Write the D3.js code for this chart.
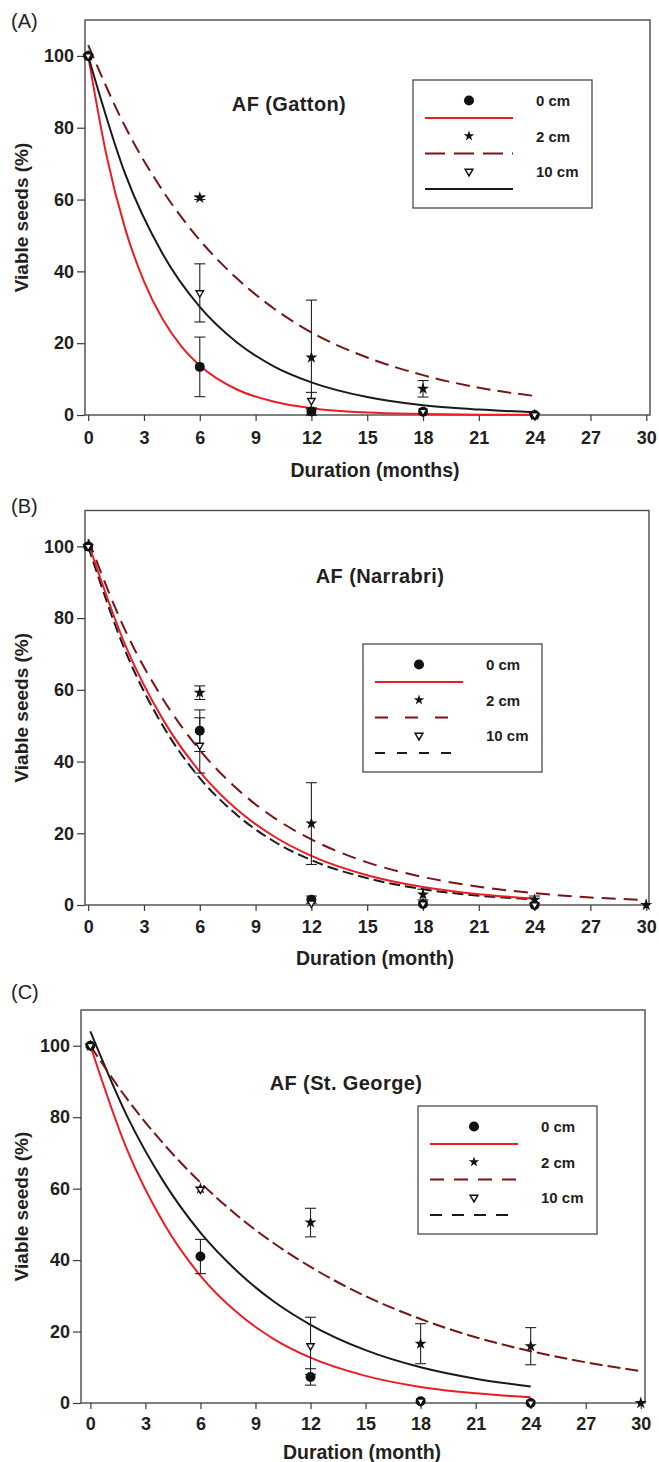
<!DOCTYPE html>
<html>
<head>
<meta charset="utf-8">
<script src="https://cdn.jsdelivr.net/npm/d3@7"></script>
<style>
  body { margin: 0; background: #fff; }
  svg { display: block; }
  text { font-family: "Liberation Sans", Arial, sans-serif; fill: #231f20; }
</style>
</head>
<body>
<svg id="chart" width="659" height="1462"></svg>
<script>
// ---- data ----
const xTicks = [0, 3, 6, 9, 12, 15, 18, 21, 24, 27, 30];
const yTicks = [0, 20, 40, 60, 80, 100];
const depths = ["0 cm", "2 cm", "10 cm"];

// sampling months of the fitted curves
const fitT24 = [0, 2, 4, 6, 8, 10, 12, 15, 18, 21, 24];
const fitT24fine = [0, 1, 2, 3, 4, 5, 6, 8, 10, 12, 15, 18, 21, 24];
const fitT30 = [0, 2, 4, 6, 8, 10, 12, 15, 18, 21, 24, 27, 30];

// (A) Gatton
const aMonths = [0, 6, 12, 18, 24];
const aCircle = [100, 13.4, 1, 0.9, 0];
const aCircleErr = [0, 8.3, 1, 0, 0];
const aStar = [100, 60.5, 16, 7.3, 0];
const aStarErr = [0, 0.5, 16, 2.3, 0];
const aTri = [100, 34, 4, 1, 0];
const aTriErr = [0, 8.1, 2.3, 0, 0];
const aFit0 = [100, 71.9, 51.7, 37.2, 26.7, 19.2, 13.8, 7.1, 3.7, 1.9, 0.7, 0.3, 0.1, 0.05];
const aFit2 = [103, 80.2, 62.5, 48.7, 38, 29.6, 23, 16, 11.1, 7.6, 5.3];
const aFit10 = [100, 67, 44.9, 30.1, 20.2, 13.5, 9.1, 5, 2.7, 1.5, 0.8];

// (B) Narrabri
const bMonths = [0, 6, 12, 18, 24];
const bStarMonths = [0, 6, 12, 18, 24, 30];
const bCircle = [100, 48.6, 1.5, 0.3, 0];
const bCircleErr = [0, 5.8, 1, 0, 0];
const bStar = [100, 59.2, 22.7, 2.9, 1.5, 0];
const bStarErr = [0, 1.9, 11.4, 1.5, 1, 0];
const bTri = [100, 44.5, 0.5, 0.3, 0];
const bTriErr = [0, 7.7, 0, 0, 0];
const bFit0 = [101, 72.4, 51.9, 37.2, 26.6, 19.1, 13.7, 8.3, 5, 3, 1.8];
const bFit2 = [102, 76.5, 57.6, 43.2, 32.4, 24.3, 18.3, 11.9, 7.8, 5.1, 3.3, 2.1, 1.4];
const bFit10 = [100, 70.8, 50.1, 35.4, 25.1, 17.7, 12.5, 7.5, 4.4, 2.6, 1.6];

// (C) St. George
const cMonths = [0, 6, 12, 18, 24];
const cStarMonths = [0, 6, 12, 18, 24, 30];
const cCircle = [100, 41, 7.3, 0.5, 0];
const cCircleErr = [0, 4.8, 2.3, 0, 0];
const cStar = [100, 60, 50.5, 16.6, 15.9, 0];
const cStarErr = [0, 0, 4, 5.6, 5.2, 0];
const cTri = [100, 59.8, 16, 0.5, 0];
const cTriErr = [0, 0, 8, 0, 0];
const cFit0 = [100, 70.9, 50.3, 35.6, 25.3, 17.9, 12.7, 7.6, 4.5, 2.7, 1.6];
const cFit2 = [100, 85.1, 72.5, 61.7, 52.5, 44.7, 38.1, 29.9, 23.5, 18.4, 14.5, 11.4, 8.9];
const cFit10 = [104, 80.3, 61.9, 47.7, 36.9, 28.4, 21.9, 14.8, 10, 6.8, 4.6];

const RED = "#ec1c24", MAROON = "#7a1315", BLACK = "#1a1a1a";

const svg = d3.select("#chart");
const zip = (xs, ys, es) => xs.map((t, i) => ({t, v: ys[i], e: es ? es[i] : 0}));

const triangle = d3.symbol().type(d3.symbolTriangle);
const star = d3.symbol().type(d3.symbolStar);
const circle = d3.symbol().type(d3.symbolCircle);

function drawPanel(p) {
  const g = svg.append("g");
  const x = d3.scaleLinear().domain(p.xDom).range([p.left, p.right]);
  const y = d3.scaleLinear().domain([0, 110]).range([p.bottom, p.top]);

  g.append("rect")
    .attr("x", p.left).attr("y", p.top)
    .attr("width", p.right - p.left).attr("height", p.bottom - p.top)
    .attr("fill", "none").attr("stroke", "#4a4a4a").attr("stroke-width", 1.4);

  const yAx = g.append("g").attr("transform", `translate(${p.left},0)`)
    .call(d3.axisLeft(y).tickValues(yTicks).tickSize(8).tickPadding(3));
  const xAx = g.append("g").attr("transform", `translate(0,${p.bottom})`)
    .call(d3.axisBottom(x).tickValues(xTicks).tickSize(6).tickPadding(p.xPad));
  [yAx, xAx].forEach(a => {
    a.select(".domain").remove();
    a.selectAll("line").attr("stroke", "#3a3a3a").attr("stroke-width", 1.2);
    a.selectAll("text").attr("font-size", 18).attr("font-weight", "bold")
      .style("font-family", "'Liberation Sans', Arial, sans-serif").attr("fill", "#231f20");
  });

  // fitted curves
  const line = d3.line().x(d => x(d.t)).y(d => y(d.v)).curve(d3.curveMonotoneX);
  p.fits.forEach(f => {
    g.append("path").datum(zip(f.t, f.v))
      .attr("d", line).attr("fill", "none")
      .attr("stroke", f.color).attr("stroke-width", 2)
      .attr("stroke-dasharray", f.dash || null);
  });

  // error bars
  const eb = g.append("g").attr("stroke", "#222").attr("stroke-width", 1.1);
  p.points.forEach(s => {
    s.data.filter(d => d.e > 0.3).forEach(d => {
      const cx = x(d.t), y1 = y(Math.max(0, d.v - d.e)), y2 = y(d.v + d.e);
      eb.append("line").attr("x1", cx).attr("x2", cx).attr("y1", y1).attr("y2", y2);
      eb.append("line").attr("x1", cx - 5.5).attr("x2", cx + 5.5).attr("y1", y1).attr("y2", y1);
      eb.append("line").attr("x1", cx - 5.5).attr("x2", cx + 5.5).attr("y1", y2).attr("y2", y2);
    });
  });

  // markers: circles, stars, then open triangles on top
  p.points.forEach(s => {
    const sel = g.append("g").selectAll("path").data(s.data).join("path")
      .attr("transform", d => `translate(${x(d.t)},${y(d.v)})` + (s.kind === "tri" ? " rotate(180)" : ""));
    if (s.kind === "circle") sel.attr("d", circle.size(78)).attr("fill", "#111");
    if (s.kind === "star") sel.attr("d", star.size(46)).attr("fill", "#111");
    if (s.kind === "tri") sel.attr("d", triangle.size(24)).attr("fill", "#fff").attr("stroke", "#111").attr("stroke-width", 1.4);
  });

  // panel letter, title, axis titles
  svg.append("text").attr("x", 11).attr("y", p.letterY).attr("font-size", 20).text(p.letter);
  svg.append("text").attr("x", p.titleX).attr("y", p.titleY).attr("text-anchor", "middle")
    .attr("font-size", 20).attr("font-weight", "bold").attr("letter-spacing", 0.4).text(p.title);
  svg.append("text").attr("x", p.xLabelX).attr("y", p.xLabelY).attr("text-anchor", "middle")
    .attr("font-size", 19.5).attr("font-weight", "bold").text(p.xLabel);
  svg.append("text").attr("transform", `translate(28,${(p.top + p.bottom) / 2}) rotate(-90)`)
    .attr("text-anchor", "middle").attr("font-size", 19).attr("font-weight", "bold")
    .text("Viable seeds (%)");

  // legend
  const L = p.legend.x, T = p.legend.y;
  const lg = svg.append("g");
  lg.append("rect").attr("x", L).attr("y", T).attr("width", 179).attr("height", 128)
    .attr("fill", "#fff").attr("stroke", "#4a4a4a").attr("stroke-width", 1.3);
  const kinds = ["circle", "star", "tri"];
  depths.forEach((lab, i) => {
    const my = T + 20.5 + i * 35.5, ly = T + 38 + i * 35.5;
    const m = lg.append("path").attr("transform", `translate(${L + 56},${my})` + (i === 2 ? " rotate(180)" : ""));
    if (kinds[i] === "circle") m.attr("d", circle.size(80)).attr("fill", "#111");
    if (kinds[i] === "star") m.attr("d", star.size(34)).attr("fill", "#111");
    if (kinds[i] === "tri") m.attr("d", triangle.size(26)).attr("fill", "#fff")
      .attr("stroke", "#111").attr("stroke-width", 1.5);
    const f = p.legendLines[i];
    lg.append("line").attr("x1", L + 12).attr("x2", L + 100).attr("y1", ly).attr("y2", ly)
      .attr("stroke", f.color).attr("stroke-width", 2).attr("stroke-dasharray", f.dash || null);
    lg.append("text").attr("x", L + 123).attr("y", my + 5.5).attr("font-size", 15)
      .attr("font-weight", "bold").text(lab);
  });
}

drawPanel({
  letter: "(A)", letterY: 28, title: "AF (Gatton)", titleX: 289, titleY: 111,
  xLabel: "Duration (months)", xLabelX: 375, xLabelY: 477, xPad: 10,
  left: 85, right: 650, top: 20, bottom: 415, xDom: [-0.17, 30.2],
  fits: [
    {t: fitT24fine, v: aFit0, color: RED},
    {t: fitT24, v: aFit10, color: BLACK},
    {t: fitT24, v: aFit2, color: MAROON, dash: "14,7"}
  ],
  points: [
    {kind: "circle", data: zip(aMonths, aCircle, aCircleErr)},
    {kind: "star", data: zip(aMonths, aStar, aStarErr)},
    {kind: "tri", data: zip(aMonths, aTri, aTriErr)}
  ],
  legend: {x: 413, y: 80},
  legendLines: [{color: RED}, {color: MAROON, dash: "20,9"}, {color: BLACK}]
});

drawPanel({
  letter: "(B)", letterY: 513, title: "AF (Narrabri)", titleX: 380, titleY: 583,
  xLabel: "Duration (month)", xLabelX: 375, xLabelY: 965, xPad: 9,
  left: 85, right: 649, top: 510.5, bottom: 905, xDom: [-0.17, 30.15],
  fits: [
    {t: fitT24, v: bFit10, color: BLACK, dash: "11,5"},
    {t: fitT24, v: bFit0, color: RED},
    {t: fitT30, v: bFit2, color: MAROON, dash: "14,8"}
  ],
  points: [
    {kind: "circle", data: zip(bMonths, bCircle, bCircleErr)},
    {kind: "star", data: zip(bStarMonths, bStar, bStarErr)},
    {kind: "tri", data: zip(bMonths, bTri, bTriErr)}
  ],
  legend: {x: 363, y: 644},
  legendLines: [{color: RED}, {color: MAROON, dash: "13,17"}, {color: BLACK, dash: "10,12"}]
});

drawPanel({
  letter: "(C)", letterY: 999, title: "AF (St. George)", titleX: 346, titleY: 1090,
  xLabel: "Duration (month)", xLabelX: 362, xLabelY: 1459, xPad: 8,
  left: 81, right: 645, top: 1010, bottom: 1403, xDom: [-0.51, 30.23],
  fits: [
    {t: fitT24, v: cFit0, color: RED},
    {t: fitT24, v: cFit10, color: BLACK},
    {t: fitT30, v: cFit2, color: MAROON, dash: "13,5"}
  ],
  points: [
    {kind: "circle", data: zip(cMonths, cCircle, cCircleErr)},
    {kind: "star", data: zip(cStarMonths, cStar, cStarErr)},
    {kind: "tri", data: zip(cMonths, cTri, cTriErr)}
  ],
  legend: {x: 418, y: 1106},
  legendLines: [{color: RED}, {color: MAROON, dash: "14,10"}, {color: BLACK, dash: "12,10"}]
});
</script>
</body>
</html>
